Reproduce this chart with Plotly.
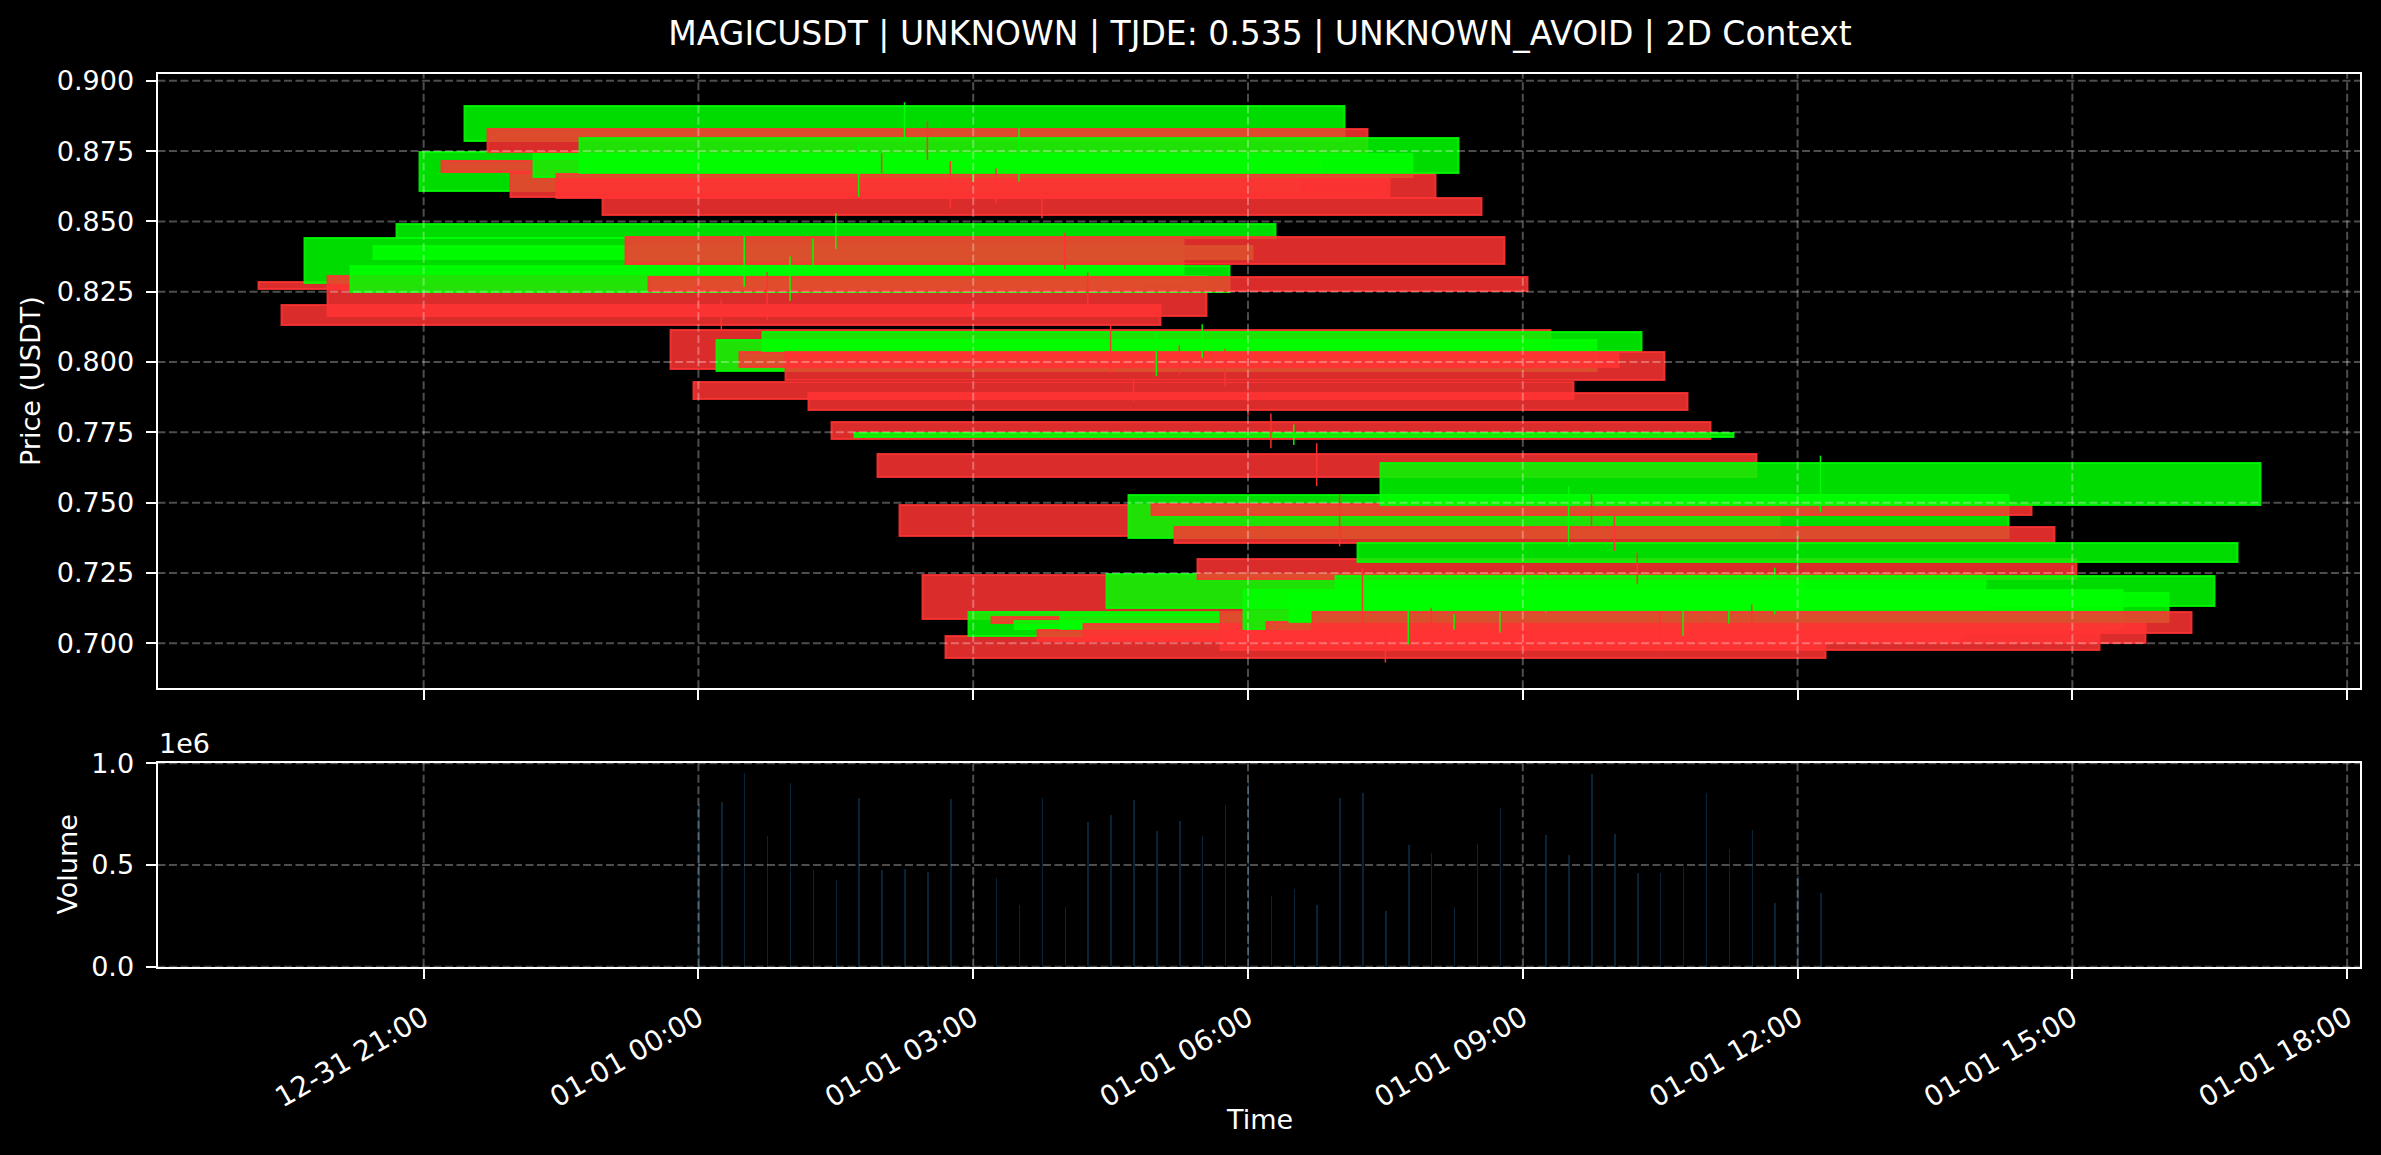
import plotly.graph_objects as go

# ---------------- data ----------------
DAY = "2025-01-01 "
clock = ["00:00", "00:15", "00:30", "00:45", "01:00", "01:15", "01:30", "01:45", "02:00", "02:15",
         "02:30", "02:45", "03:00", "03:15", "03:30", "03:45", "04:00", "04:15", "04:30", "04:45",
         "05:00", "05:15", "05:30", "05:45", "06:00", "06:15", "06:30", "06:45", "07:00", "07:15",
         "07:30", "07:45", "08:00", "08:15", "08:30", "08:45", "09:00", "09:15", "09:30", "09:45",
         "10:00", "10:15", "10:30", "10:45", "11:00", "11:15", "11:30", "11:45", "12:00", "12:15"]
times = [DAY + c for c in clock]

opens = [0.8284, 0.8204, 0.8281, 0.8307, 0.8249, 0.8367, 0.8440, 0.8609, 0.8715, 0.8787,
         0.8830, 0.8672, 0.8659, 0.8667, 0.8671, 0.8584, 0.8444, 0.8302, 0.8114, 0.7930,
         0.7968, 0.8037, 0.8038, 0.8037, 0.7890, 0.7788, 0.7735, 0.7674, 0.7492, 0.7242,
         0.7027, 0.7025, 0.7094, 0.7051, 0.7049, 0.7052, 0.7067, 0.7124, 0.7374, 0.7496,
         0.7415, 0.7301, 0.7111, 0.7051, 0.7075, 0.7075, 0.7111, 0.7132, 0.7289, 0.7491]
closes = [0.8259, 0.8131, 0.8440, 0.8165, 0.8342, 0.8413, 0.8490, 0.8745, 0.8677, 0.8912,
          0.8745, 0.8588, 0.8739, 0.8584, 0.8795, 0.8522, 0.8350, 0.8251, 0.7976, 0.7869,
          0.8080, 0.7982, 0.8107, 0.7936, 0.7829, 0.7727, 0.7749, 0.7591, 0.7381, 0.7087,
          0.6948, 0.7113, 0.7073, 0.7081, 0.7007, 0.7100, 0.7007, 0.7246, 0.7528, 0.7456,
          0.7357, 0.7230, 0.6976, 0.7190, 0.7002, 0.7180, 0.7038, 0.7239, 0.7358, 0.7641]
highs = [0.8302, 0.8221, 0.8446, 0.8320, 0.8375, 0.8439, 0.8530, 0.8771, 0.8742, 0.8924,
         0.8857, 0.8715, 0.8765, 0.8689, 0.8831, 0.8600, 0.8460, 0.8318, 0.8134, 0.7938,
         0.8104, 0.8059, 0.8134, 0.8047, 0.7905, 0.7817, 0.7778, 0.7711, 0.7529, 0.7268,
         0.7035, 0.7115, 0.7126, 0.7103, 0.7060, 0.7111, 0.7080, 0.7251, 0.7558, 0.7529,
         0.7452, 0.7322, 0.7114, 0.7205, 0.7085, 0.7190, 0.7138, 0.7269, 0.7381, 0.7667]
lows = [0.8145, 0.8115, 0.8268, 0.8150, 0.8218, 0.8344, 0.8402, 0.8588, 0.8671, 0.8780,
        0.8718, 0.8546, 0.8640, 0.8564, 0.8641, 0.8511, 0.8330, 0.8205, 0.7962, 0.7861,
        0.7950, 0.7956, 0.8015, 0.7912, 0.7810, 0.7693, 0.7705, 0.7559, 0.7345, 0.7073,
        0.6932, 0.6996, 0.7067, 0.7049, 0.6998, 0.7038, 0.6995, 0.7110, 0.7345, 0.7419,
        0.7328, 0.7210, 0.6972, 0.7027, 0.6995, 0.7070, 0.7030, 0.7103, 0.7263, 0.7466]
volumes = [800000, 814000, 956000, 643000, 906000, 479000, 428000, 832000, 479000, 482000,
           467000, 826000, 450000, 439000, 304000, 832000, 296000, 715000, 747000, 822000,
           669000, 719000, 643000, 799000, 909000, 350000, 383000, 306000, 832000, 857000,
           275000, 600000, 561000, 296000, 605000, 783000, 400000, 650000, 551000, 952000,
           655000, 465000, 465000, 495000, 857000, 581000, 674000, 317000, 450000, 363000]

price_ticks = [0.700, 0.725, 0.750, 0.775, 0.800, 0.825, 0.850, 0.875, 0.900]
price_ticktext = ["0.700", "0.725", "0.750", "0.775", "0.800", "0.825", "0.850", "0.875", "0.900"]
vol_ticks = [0, 500000, 1000000]
vol_ticktext = ["0.0", "0.5", "1.0"]
time_ticks = ["2024-12-31 21:00", "2025-01-01 00:00", "2025-01-01 03:00", "2025-01-01 06:00",
              "2025-01-01 09:00", "2025-01-01 12:00", "2025-01-01 15:00", "2025-01-01 18:00"]
time_ticktext = ["12-31 21:00", "01-01 00:00", "01-01 03:00", "01-01 06:00",
                 "01-01 09:00", "01-01 12:00", "01-01 15:00", "01-01 18:00"]

TITLE = "MAGICUSDT | UNKNOWN | TJDE: 0.535 | UNKNOWN_AVOID | 2D Context"

# ---------------- style ----------------
GREEN = "rgba(0,255,0,0.86)"
RED = "rgba(255,51,51,0.86)"
GREEN_W = "rgba(0,255,0,0.95)"
RED_W = "rgba(255,51,51,0.95)"
VOL_COLOR = "rgba(31,119,180,0.30)"
GRID = "rgba(255,255,255,0.30)"
FONT = "DejaVu Sans"
BODY_WIDTH_MS = 0.4 * 24 * 3600 * 1000   # 0.4 day wide bodies
VOL_WIDTH_MS = 60 * 1000

W, H = 2381, 1155
XDOM = [157.5 / W, 2360 / W]
YDOM_P = [1 - 688.3 / H, 1 - 74 / H]
YDOM_V = [1 - 966.7 / H, 1 - 762.5 / H]
XRANGE = ["2024-12-31 18:05:40", "2025-01-01 18:08:25"]

up = [c >= o for o, c in zip(opens, closes)]
colors = [GREEN if u else RED for u in up]

fig = go.Figure()

# candle bodies
fig.add_trace(go.Bar(
    x=times, y=[c - o for o, c in zip(opens, closes)], base=opens,
    width=[BODY_WIDTH_MS] * len(times),
    marker=dict(color=colors, line=dict(color=colors, width=2)),
    xaxis="x", yaxis="y", hoverinfo="skip",
))

# wicks
for flag, col in ((True, GREEN_W), (False, RED_W)):
    wx, wy = [], []
    for t, h, l, u in zip(times, highs, lows, up):
        if u == flag:
            wx += [t, t, None]
            wy += [l, h, None]
    fig.add_trace(go.Scatter(x=wx, y=wy, mode="lines", line=dict(color=col, width=1.5),
                             xaxis="x", yaxis="y", hoverinfo="skip", connectgaps=False))

# volume
fig.add_trace(go.Bar(x=times, y=volumes, width=[VOL_WIDTH_MS] * len(times),
                     marker=dict(color=VOL_COLOR, line=dict(width=0)),
                     xaxis="x2", yaxis="y2", hoverinfo="skip"))

# grid lines drawn above the bars (as in the reference)
shapes = []
for xr, yr in (("x", "y domain"), ("x2", "y2 domain")):
    for t in time_ticks:
        shapes.append(dict(type="line", xref=xr, yref=yr, x0=t, x1=t, y0=0, y1=1,
                           line=dict(color=GRID, width=2, dash="8px,3.5px"), layer="above"))
for v in price_ticks:
    shapes.append(dict(type="line", xref="x domain", yref="y", x0=0, x1=1, y0=v, y1=v,
                       line=dict(color=GRID, width=2, dash="8px,3.5px"), layer="above"))
for v in vol_ticks:
    shapes.append(dict(type="line", xref="x2 domain", yref="y2", x0=0, x1=1, y0=v, y1=v,
                       line=dict(color=GRID, width=2, dash="8px,3.5px"), layer="above"))

axis_common = dict(showline=True, linecolor="white", linewidth=2, mirror=True,
                   ticks="outside", ticklen=10, tickwidth=2, tickcolor="white",
                   showgrid=False, zeroline=False, automargin=False)
TICKFONT = dict(family=FONT, size=27, color="white")

fig.update_layout(
    template="none",
    width=W, height=H, margin=dict(l=0, r=0, t=0, b=0, pad=0, autoexpand=False),
    paper_bgcolor="black", plot_bgcolor="black",
    barmode="overlay", bargap=0, showlegend=False,
    font=dict(family=FONT, color="white"),
    title=dict(text=TITLE, x=1260 / W, xanchor="center", xref="container",
               y=1 - 33 / H, yanchor="middle", yref="container", automargin=False,
               font=dict(family=FONT, size=33, color="white")),
    xaxis=dict(domain=XDOM, anchor="y", type="date", range=XRANGE,
               tickvals=time_ticks, ticktext=time_ticktext, showticklabels=False,
               tickfont=TICKFONT, **axis_common),
    yaxis=dict(domain=YDOM_P, anchor="x", range=[0.6840, 0.9024],
               tickvals=price_ticks, ticktext=price_ticktext, ticklabelstandoff=6,
               tickfont=TICKFONT, **axis_common),
    xaxis2=dict(domain=XDOM, anchor="y2", type="date", range=XRANGE,
                tickvals=time_ticks, ticktext=time_ticktext, tickangle=-30,
                ticklabelstandoff=12,
                tickfont=dict(family=FONT, size=28, color="white"), **axis_common),
    yaxis2=dict(domain=YDOM_V, anchor="x2", range=[0, 1004000],
                tickvals=vol_ticks, ticktext=vol_ticktext, ticklabelstandoff=6,
                tickfont=TICKFONT, **axis_common),
    shapes=shapes,
    annotations=[
        dict(text="Price (USDT)", x=30 / W, y=1 - 381 / H, xref="paper", yref="paper",
             textangle=-90, showarrow=False, xanchor="center", yanchor="middle",
             font=dict(family=FONT, size=27, color="white")),
        dict(text="Volume", x=68 / W, y=1 - 864.6 / H, xref="paper", yref="paper",
             textangle=-90, showarrow=False, xanchor="center", yanchor="middle",
             font=dict(family=FONT, size=27, color="white")),
        dict(text="Time", x=1259 / W, y=1 - 1119 / H, xref="paper", yref="paper",
             showarrow=False, xanchor="center", yanchor="middle",
             font=dict(family=FONT, size=27, color="white")),
        dict(text="1e6", x=157 / W, y=1 - 743 / H, xref="paper", yref="paper",
             showarrow=False, xanchor="left", yanchor="middle",
             font=dict(family=FONT, size=27, color="white")),
    ],
)

fig.write_html("out.html")
